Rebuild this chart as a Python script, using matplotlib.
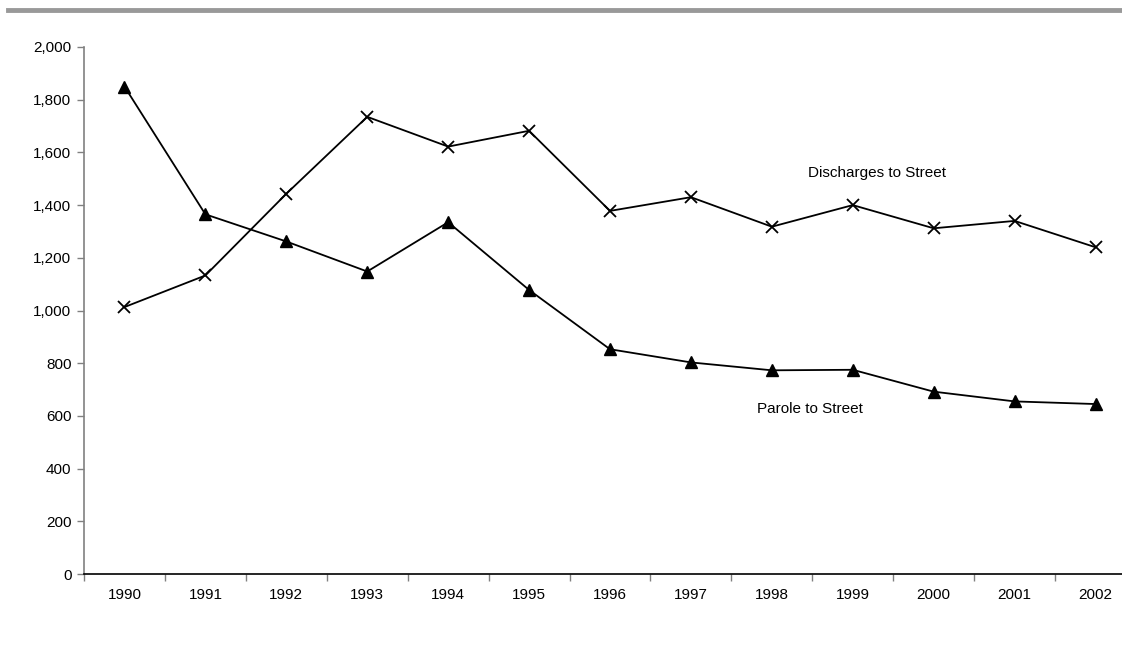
import matplotlib.pyplot as plt
import matplotlib.lines as mlines
import numpy as np

plt.rcParams['font.family'] = ['Liberation Sans', 'DejaVu Sans']

years = ['1990', '1991', '1992', '1993', '1994', '1995', '1996',
         '1997', '1998', '1999', '2000', '2001', '2002']
discharges = [1013, 1133, 1443, 1735, 1622, 1682, 1378, 1430, 1318, 1400, 1312, 1340, 1240]
parole = [1850, 1365, 1262, 1148, 1335, 1078, 853, 803, 773, 775, 692, 655, 645]

W, H = 1122, 668
fig = plt.figure(figsize=(W / 100, H / 100), dpi=100)

# gray rule across the top
fig.add_artist(mlines.Line2D([8 / W, 1.0], [1 - 10 / H, 1 - 10 / H],
                             color='#999999', linewidth=3.5))

left, right = 84, 1136
bottom, top = 574, 47
ax = fig.add_axes([left / W, 1 - bottom / H, (right - left) / W, (bottom - top) / H])

x = np.arange(len(years))
ax.plot(x, discharges, color='black', linewidth=1.3, marker='x',
        markersize=9, markeredgewidth=1.3)
ax.plot(x, parole, color='black', linewidth=1.3, marker='^',
        markersize=8)

ax.set_xlim(-0.5, len(years) - 0.5)
ax.set_ylim(0, 2000)
ax.set_yticks(np.arange(0, 2001, 200))
ax.set_yticklabels(['{:,}'.format(v) for v in range(0, 2001, 200)])
ax.set_xticks(x)
ax.set_xticklabels(years)
ax.set_xticks(np.arange(-0.5, len(years), 1), minor=True)
ax.tick_params(axis='x', which='major', length=0, pad=10, labelsize=11)
ax.tick_params(axis='x', which='minor', length=5, width=1, color='#808080', direction='out')
ax.tick_params(axis='y', length=5, width=1, color='#808080', labelsize=11, pad=4)

for s in ['top', 'right']:
    ax.spines[s].set_visible(False)
ax.spines['left'].set_color('#808080')
ax.spines['left'].set_linewidth(1.2)
ax.spines['bottom'].set_color('black')
ax.spines['bottom'].set_linewidth(1.2)

ax.text(9.3, 1523, 'Discharges to Street', fontsize=11, ha='center', va='center')
ax.text(8.47, 626, 'Parole to Street', fontsize=11, ha='center', va='center')

fig.savefig('out.png', dpi=100)
